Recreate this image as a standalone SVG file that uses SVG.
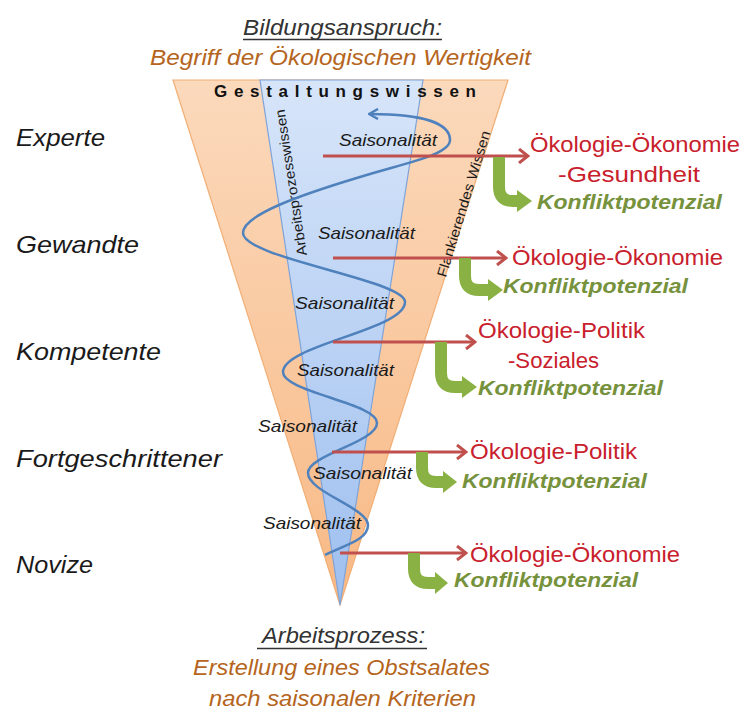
<svg xmlns="http://www.w3.org/2000/svg" width="744" height="711" viewBox="0 0 744 711">
  <defs>
    <linearGradient id="gOrange" x1="0" y1="0" x2="0" y2="1">
      <stop offset="0" stop-color="#FBD9BC"/>
      <stop offset="1" stop-color="#F8B985"/>
    </linearGradient>
    <linearGradient id="gBlue" x1="0" y1="0" x2="0" y2="1">
      <stop offset="0" stop-color="#D7E5F9"/>
      <stop offset="1" stop-color="#9EBFEF"/>
    </linearGradient>
    <marker id="redHead" viewBox="0 0 14 16" refX="12" refY="8" markerWidth="14" markerHeight="16" markerUnits="userSpaceOnUse" orient="auto">
      <path d="M3,1 L12,8 L3,15" fill="none" stroke="#C0504D" stroke-width="3" stroke-linejoin="miter"/>
    </marker>
    <marker id="blueHead" viewBox="0 0 12 12" refX="10" refY="6" markerWidth="12" markerHeight="12" markerUnits="userSpaceOnUse" orient="auto">
      <path d="M2,1 L11,6 L2,11" fill="none" stroke="#4F81BD" stroke-width="2.5"/>
    </marker>
  </defs>
  <style>
    .sans { font-family: "Liberation Sans", Arial, sans-serif; }
    .level { font-family: "Liberation Sans", Arial, sans-serif; font-style: italic; font-size: 24px; fill: #1a1a1a; }
    .head { font-family: "Liberation Sans", Arial, sans-serif; font-style: italic; font-size: 22px; fill: #333333; }
    .brown { font-family: "Liberation Sans", Arial, sans-serif; font-style: italic; font-size: 22px; fill: #B5651D; }
    .saison { font-family: "Liberation Sans", Arial, sans-serif; font-style: italic; font-size: 16.5px; fill: #1a1a1a; }
    .red { font-family: "Liberation Sans", Arial, sans-serif; font-size: 22px; fill: #C8202C; }
    .green { font-family: "Liberation Sans", Arial, sans-serif; font-style: italic; font-weight: bold; font-size: 21px; fill: #76923C; }
    .vert { font-family: "Liberation Sans", Arial, sans-serif; font-size: 14px; fill: #1a1a1a; }
    .redline { stroke: #C0504D; stroke-width: 3; fill: none; marker-end: url(#redHead); }
    .gbar { stroke: #8AB143; stroke-width: 12; fill: none; }
    .ghead { fill: #8AB143; }
  </style>

  <g id="funnel">
    <polygon points="173,80 508,80 340,605" fill="url(#gOrange)" stroke="#F2AE74" stroke-width="1.2"/>
    <polygon points="260,80 423,80 340,605" fill="url(#gBlue)" stroke="#7FA4D9" stroke-width="1.2"/>
    <text class="vert" transform="translate(307,255) rotate(-98.8)" textLength="148" lengthAdjust="spacingAndGlyphs">Arbeitsprozesswissen</text>
    <text class="vert" transform="translate(446,278) rotate(-73)" textLength="152" lengthAdjust="spacingAndGlyphs">Flankierendes Wissen</text>
    <text class="sans" x="214" y="97" font-size="17" font-weight="bold" fill="#111" textLength="262" lengthAdjust="spacing">Gestaltungswissen</text>
  </g>

  <g id="header">
    <text class="head" x="243" y="35" textLength="199" lengthAdjust="spacingAndGlyphs">Bildungsanspruch:</text>
    <line x1="243" y1="39.5" x2="442" y2="39.5" stroke="#333" stroke-width="1.5"/>
    <text class="brown" x="150" y="65" textLength="381" lengthAdjust="spacingAndGlyphs">Begriff der Ökologischen Wertigkeit</text>
  </g>

  <g id="levels">
    <text class="level" x="16" y="146" textLength="89" lengthAdjust="spacingAndGlyphs">Experte</text>
    <text class="level" x="16" y="253" textLength="123" lengthAdjust="spacingAndGlyphs">Gewandte</text>
    <text class="level" x="16" y="360" textLength="145" lengthAdjust="spacingAndGlyphs">Kompetente</text>
    <text class="level" x="16" y="467" textLength="206" lengthAdjust="spacingAndGlyphs">Fortgeschrittener</text>
    <text class="level" x="16" y="573" textLength="77" lengthAdjust="spacingAndGlyphs">Novize</text>
  </g>

  <g id="connectors">
    <path id="spiral" d="M325,555 C345,545 368,540 368,525 C368,508 308,492 308,473 C308,455 377,442 377,423 C377,403 283,392 283,372 C283,345 405,330 405,302 C405,280 243,258 243,233 C243,215 300,195 360,177 C405,163 450,155 450,140 C450,124 425,114 370,114" fill="none" stroke="#4F81BD" stroke-width="2.5" marker-end="url(#blueHead)"/>
    <line class="redline" x1="323" y1="156" x2="528" y2="156"/>
    <line class="redline" x1="333" y1="258" x2="506" y2="258"/>
    <line class="redline" x1="333" y1="342" x2="475" y2="342"/>
    <line class="redline" x1="332" y1="452" x2="466" y2="452"/>
    <line class="redline" x1="340" y1="553" x2="466" y2="553"/>
    <g id="green1"><path class="gbar" d="M499,157 V187 Q499,201 513,201 H519"/><polygon class="ghead" points="517,190 532,201 517,212"/></g>
    <g id="green2"><path class="gbar" d="M465,258 V276 Q465,290 479,290 H490"/><polygon class="ghead" points="488,279 503,290 488,301"/></g>
    <g id="green3"><path class="gbar" d="M441,342 V373 Q441,387 455,387 H464"/><polygon class="ghead" points="462,376 477,387 462,398"/></g>
    <g id="green4"><path class="gbar" d="M422,452 V468 Q422,482 436,482 H445"/><polygon class="ghead" points="443,471 457,482 443,493"/></g>
    <g id="green5"><path class="gbar" d="M414,553 V569 Q414,583 428,583 H437"/><polygon class="ghead" points="435,572 448,583 435,594"/></g>
  </g>

  <g id="saisonalitaet">
    <text class="saison" x="339" y="146" textLength="98" lengthAdjust="spacingAndGlyphs">Saisonalität</text>
    <text class="saison" x="318" y="239" textLength="97" lengthAdjust="spacingAndGlyphs">Saisonalität</text>
    <text class="saison" x="295" y="309" textLength="99" lengthAdjust="spacingAndGlyphs">Saisonalität</text>
    <text class="saison" x="297" y="376" textLength="97" lengthAdjust="spacingAndGlyphs">Saisonalität</text>
    <text class="saison" x="258" y="432" textLength="99" lengthAdjust="spacingAndGlyphs">Saisonalität</text>
    <text class="saison" x="313" y="479" textLength="99" lengthAdjust="spacingAndGlyphs">Saisonalität</text>
    <text class="saison" x="263" y="529" textLength="98" lengthAdjust="spacingAndGlyphs">Saisonalität</text>
  </g>

  <g id="node-experte">
    <text class="red" x="530" y="152" textLength="210" lengthAdjust="spacingAndGlyphs">Ökologie-Ökonomie</text>
    <text class="red" x="558" y="182" textLength="142" lengthAdjust="spacingAndGlyphs">-Gesundheit</text>
    <text class="green" x="537" y="209" textLength="185" lengthAdjust="spacingAndGlyphs">Konfliktpotenzial</text>
  </g>
  <g id="node-gewandte">
    <text class="red" x="512" y="265" textLength="211" lengthAdjust="spacingAndGlyphs">Ökologie-Ökonomie</text>
    <text class="green" x="503" y="293" textLength="185" lengthAdjust="spacingAndGlyphs">Konfliktpotenzial</text>
  </g>
  <g id="node-kompetente">
    <text class="red" x="478" y="338" textLength="167" lengthAdjust="spacingAndGlyphs">Ökologie-Politik</text>
    <text class="red" x="508" y="368" textLength="91" lengthAdjust="spacingAndGlyphs">-Soziales</text>
    <text class="green" x="478" y="395" textLength="185" lengthAdjust="spacingAndGlyphs">Konfliktpotenzial</text>
  </g>
  <g id="node-fortgeschrittener">
    <text class="red" x="470" y="459" textLength="167" lengthAdjust="spacingAndGlyphs">Ökologie-Politik</text>
    <text class="green" x="462" y="488" textLength="185" lengthAdjust="spacingAndGlyphs">Konfliktpotenzial</text>
  </g>
  <g id="node-novize">
    <text class="red" x="470" y="562" textLength="210" lengthAdjust="spacingAndGlyphs">Ökologie-Ökonomie</text>
    <text class="green" x="454" y="587" textLength="184" lengthAdjust="spacingAndGlyphs">Konfliktpotenzial</text>
  </g>

  <g id="footer">
    <text class="head" x="262" y="643" textLength="163" lengthAdjust="spacingAndGlyphs">Arbeitsprozess:</text>
    <line x1="257" y1="648.5" x2="427" y2="648.5" stroke="#333" stroke-width="1.5"/>
    <text class="brown" x="193" y="675" textLength="297" lengthAdjust="spacingAndGlyphs">Erstellung eines Obstsalates</text>
    <text class="brown" x="209" y="706" textLength="267" lengthAdjust="spacingAndGlyphs">nach saisonalen Kriterien</text>
  </g>
</svg>
